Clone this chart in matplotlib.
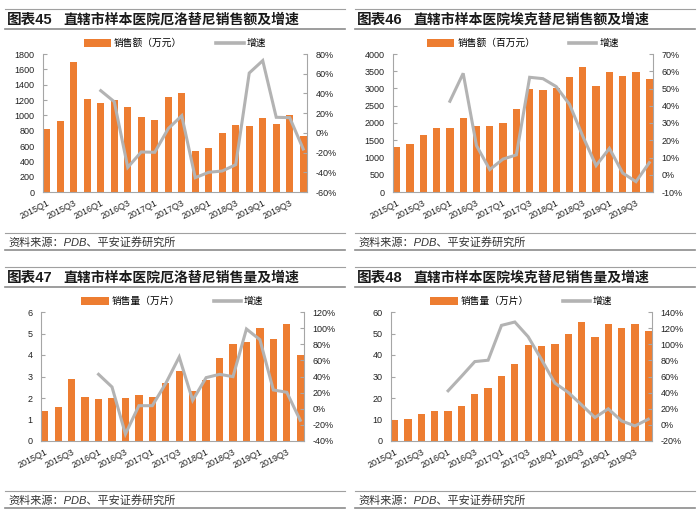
import matplotlib
matplotlib.use("Agg")
import matplotlib.pyplot as plt
from matplotlib.lines import Line2D
from matplotlib.patches import Patch
from matplotlib.ticker import FuncFormatter, MultipleLocator

plt.rcParams['font.family'] = ['Liberation Sans', 'Noto Sans CJK SC', 'DejaVu Sans']
plt.rcParams['axes.unicode_minus'] = False

quarters = [f"{y}Q{q}" for y in range(2015, 2020) for q in range(1, 5)]
tick_labels = quarters[::2]

# 图表45 厄洛替尼销售额（万元）
sales45 = [826, 926, 1691, 1217, 1161, 1204, 1104, 978, 935, 1239,
           1287, 539, 570, 765, 874, 857, 965, 883, 1004, 726]
growth45 = [42.8, 31.6, -35.0, -19.4, -19.7, 4.3, 17.4, -45.5,
            -40.0, -38.7, -32.3, 60.7, 73.3, 15.8, 15.4, -16.4]

# 图表46 埃克替尼销售额（百万元）
sales46 = [1304, 1382, 1662, 1865, 1845, 2155, 1923, 1903, 2010, 2396,
           2986, 2947, 3024, 3324, 3623, 3082, 3469, 3353, 3469, 3285]
growth46 = [42.6, 58.8, 16.9, 3.0, 9.1, 11.5, 56.5, 55.7,
            51.1, 40.8, 22.3, 5.3, 15.3, 1.0, -4.0, 7.0]

# 图表47 厄洛替尼销售量（万片）
vol47 = [1.40, 1.60, 2.87, 2.05, 1.97, 2.02, 1.98, 2.14, 2.05, 2.71,
         3.24, 2.33, 2.84, 3.86, 4.51, 4.62, 5.24, 4.76, 5.44, 4.02]
growth47 = [42.7, 27.0, -31.3, 3.8, 3.8, 31.5, 64.2, 10.5,
            38.6, 42.7, 39.8, 98.9, 85.7, 23.3, 20.4, -14.3]

# 图表48 埃克替尼销售量（万片）
vol48 = [10.0, 10.4, 12.5, 13.9, 13.9, 16.2, 21.7, 24.6, 30.4, 35.8,
         44.6, 44.1, 45.3, 50.0, 55.3, 48.2, 54.2, 52.4, 54.2, 51.3]
growth48 = [42.3, 60.2, 78.5, 80.2, 123.4, 127.6, 109.3, 81.0,
            51.9, 40.3, 24.9, 9.1, 19.9, 4.9, -1.3, 7.0]

titles = ["图表45", "图表46", "图表47", "图表48"]
subtitles = ["直辖市样本医院厄洛替尼销售额及增速",
             "直辖市样本医院埃克替尼销售额及增速",
             "直辖市样本医院厄洛替尼销售量及增速",
             "直辖市样本医院埃克替尼销售量及增速"]
bar_labels = ["销售额（万元）", "销售额（百万元）", "销售量（万片）", "销售量（万片）"]
line_label = "增速"
source = "资料来源：PDB、平安证券研究所"

W, H = 700, 516
ORANGE = "#ED7D31"
GRAY = "#B3B3B3"
SPINE = "#A6A6A6"

fig = plt.figure(figsize=(W / 100, H / 100), dpi=100)


def fx(px):
    return px / W


def fy(py):
    return 1 - py / H


def hline(x0, x1, y, color="#9A9A9A", lw=1.0):
    fig.add_artist(Line2D([fx(x0), fx(x1)], [fy(y), fy(y)], color=color, lw=lw,
                          transform=fig.transFigure))


panels = [
    dict(ox=0, oy=0, ax=(43, 307, 54, 192), bars=sales45, growth=growth45,
         ylim=(0, 1800), ystep=200, y2lim=(-60, 80), y2step=20),
    dict(ox=350, oy=0, ax=(393, 653, 54, 192), bars=sales46, growth=growth46,
         ylim=(0, 4000), ystep=500, y2lim=(-10, 70), y2step=10),
    dict(ox=0, oy=258, ax=(41, 304, 312, 441), bars=vol47, growth=growth47,
         ylim=(0, 6), ystep=1, y2lim=(-40, 120), y2step=20),
    dict(ox=350, oy=258, ax=(391, 652, 312, 441), bars=vol48, growth=growth48,
         ylim=(0, 60), ystep=10, y2lim=(-20, 140), y2step=20),
]

for i, p in enumerate(panels):
    ox, oy = p["ox"], p["oy"]
    # title block
    hline(ox + 5, ox + 345, oy + 9, color="#A0A0A0", lw=0.8)
    hline(ox + 5, ox + 345, oy + 29, color="#8C8C8C", lw=1.2)
    fig.text(fx(ox + 7), fy(oy + 20), titles[i], fontsize=10.5, fontweight="bold",
             va="center", ha="left", color="#1a1a1a")
    fig.text(fx(ox + 63), fy(oy + 20), subtitles[i], fontsize=10, fontweight="bold",
             va="center", ha="left", color="#1a1a1a")
    # source block
    hline(ox + 5, ox + 345, oy + 233, color="#A0A0A0", lw=0.8)
    hline(ox + 5, ox + 345, oy + 250, color="#8C8C8C", lw=1.2)
    fig.text(fx(ox + 8), fy(oy + 242), source, fontsize=8, style="italic",
             va="center", ha="left", color="#333333")

    x0, x1, yt, yb = p["ax"]
    ax = fig.add_axes([fx(x0), fy(yb), fx(x1) - fx(x0), (yb - yt) / H])
    xs = list(range(len(quarters)))
    ax.bar(xs, p["bars"], width=0.55, color=ORANGE, zorder=2)
    ax.set_xlim(-0.28, len(quarters) - 1 + 0.28)
    ax.set_ylim(*p["ylim"])
    ax.yaxis.set_major_locator(MultipleLocator(p["ystep"]))
    ax.set_xticks(xs[::2])
    ax.set_xticklabels(tick_labels, rotation=27, ha="right", va="top",
                       rotation_mode="anchor", fontsize=6.5, color="#222222")
    ax.tick_params(axis="x", length=0, pad=5)
    ax.tick_params(axis="y", direction="in", length=3, color=SPINE, labelsize=6.5,
                   labelcolor="#222222", pad=6)
    for s in ["top", "right"]:
        ax.spines[s].set_visible(False)
    for s in ["left", "bottom"]:
        ax.spines[s].set_color(SPINE)
        ax.spines[s].set_linewidth(0.8)
    ax.patch.set_alpha(0)

    ax2 = ax.twinx()
    ax2.plot(xs[4:], p["growth"], color=GRAY, lw=2.2, zorder=3,
             solid_joinstyle="miter")
    ax2.set_ylim(*p["y2lim"])
    ax2.yaxis.set_major_locator(MultipleLocator(p["y2step"]))
    ax2.yaxis.set_major_formatter(FuncFormatter(lambda v, _: f"{v:.0f}%"))
    ax2.tick_params(axis="y", direction="in", length=3, color=SPINE, labelsize=6.5,
                    labelcolor="#222222", pad=6)
    for s in ["top", "left", "bottom"]:
        ax2.spines[s].set_visible(False)
    ax2.spines["right"].set_color(SPINE)
    ax2.spines["right"].set_linewidth(0.8)

    handles = [Patch(facecolor=ORANGE, edgecolor="none"),
               Line2D([0], [0], color=GRAY, lw=2.6)]
    leg = ax.legend(handles, [bar_labels[i], line_label], loc="lower center",
                    bbox_to_anchor=(0.5, 1.0), ncol=2, frameon=False,
                    fontsize=7, handlelength=2.8, handleheight=0.8,
                    columnspacing=3.5, handletextpad=0.3, borderaxespad=0.2)

fig.savefig("out.png", dpi=100)
